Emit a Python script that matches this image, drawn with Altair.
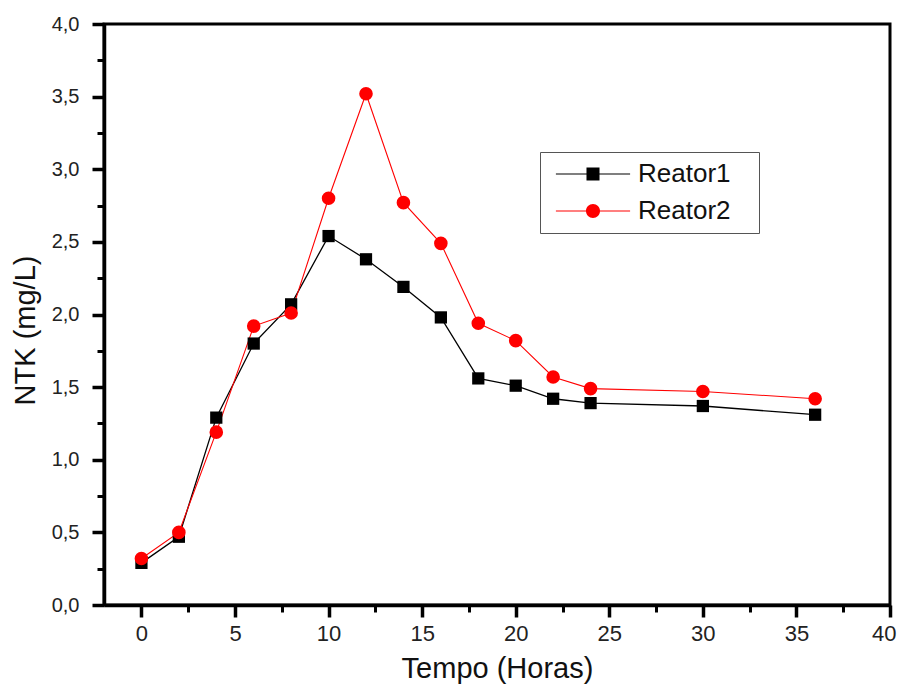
import altair as alt
import pandas as pd

# ---- data ----
tempo = [0, 2, 4, 6, 8, 10, 12, 14, 16, 18, 20, 22, 24, 30, 36]
reator1 = [0.29, 0.47, 1.29, 1.80, 2.07, 2.54, 2.38, 2.19, 1.98, 1.56, 1.51, 1.42, 1.39, 1.37, 1.31]
reator2 = [0.32, 0.50, 1.19, 1.92, 2.01, 2.80, 3.52, 2.77, 2.49, 1.94, 1.82, 1.57, 1.49, 1.47, 1.42]
series = ["Reator1", "Reator2"]
colors = ["#000000", "#ff0000"]
x_major = [0, 5, 10, 15, 20, 25, 30, 35, 40]
x_minor = [2.5, 7.5, 12.5, 17.5, 22.5, 27.5, 32.5, 37.5]
y_major = [0, 0.5, 1.0, 1.5, 2.0, 2.5, 3.0, 3.5, 4.0]
y_minor = [0.25, 0.75, 1.25, 1.75, 2.25, 2.75, 3.25, 3.75]

df = pd.DataFrame({
    "Tempo": tempo + tempo,
    "NTK": reator1 + reator2,
    "Serie": [series[0]] * len(tempo) + [series[1]] * len(tempo),
})

FONT = "Liberation Sans"
xscale = alt.Scale(domain=[-2, 40], nice=False, zero=False)
yscale = alt.Scale(domain=[0, 4], nice=False)

major_x = alt.Axis(values=x_major, format="d", orient="bottom", title="Tempo (Horas)",
                   titleFont=FONT, titleFontSize=29, titleFontWeight="normal", titleColor="#111111",
                   titlePadding=10, labelFont=FONT, labelFontSize=22, labelColor="#222222",
                   labelPadding=6, labelFlush=True, labelFlushOffset=6, labelOverlap=False,
                   tickSize=12, tickWidth=3.5, tickColor="black",
                   domainColor="black", domainWidth=3.5, grid=False)
major_y = alt.Axis(values=y_major, orient="left", title="NTK (mg/L)", titleY=306,
                   labelExpr="replace(format(datum.value, '.1f'), '.', ',')",
                   titleFont=FONT, titleFontSize=29, titleFontWeight="normal", titleColor="#111111",
                   titlePadding=11, labelFont=FONT, labelFontSize=20, labelColor="#222222",
                   labelPadding=13, labelOverlap=False, labelFlush=False,
                   tickSize=12, tickWidth=3.5, tickColor="black",
                   domainColor="black", domainWidth=3.5, grid=False)
minor_x = alt.Axis(values=x_minor, orient="bottom", labels=False, domain=False, grid=False,
                   title=None, tickSize=7, tickWidth=3, tickColor="black")
minor_y = alt.Axis(values=y_minor, orient="left", labels=False, domain=False, grid=False,
                   title=None, tickSize=7, tickWidth=3, tickColor="black")

base = alt.Chart(df)

def xe(axis):
    return alt.X("Tempo:Q", scale=xscale, axis=axis)

def ye(axis):
    return alt.Y("NTK:Q", scale=yscale, axis=axis)

line_widths = [1.3, 1.1]
shapes = ["square", "circle"]
sizes = [150, 185]

layers = []
for i, s in enumerate(series):
    layers.append(
        base.transform_filter(alt.datum.Serie == s)
        .mark_line(color=colors[i], strokeWidth=line_widths[i])
        .encode(x=xe(major_x if i == 0 else None), y=ye(major_y if i == 0 else None))
    )
for i, s in enumerate(series):
    layers.append(
        base.transform_filter(alt.datum.Serie == s)
        .mark_point(shape=shapes[i], filled=True, size=sizes[i], opacity=1, color=colors[i])
        .encode(x=xe(None), y=ye(None))
    )

# legend symbols: line through marker
leg_square = "M-5.3,-0.07H5.3V0.07H-5.3Z M-0.93,-0.93H0.93V0.93H-0.93Z"
leg_circle = "M-5.3,-0.07H5.3V0.07H-5.3Z M1,0A1,1,0,1,1,-1,0A1,1,0,1,1,1,0Z"

legend_props = dict(
    title=None, orient="none", legendX=436, legendY=128,
    padding=9, symbolOffset=31, labelOffset=32, rowPadding=11,
    symbolSize=196, symbolStrokeWidth=0, symbolOpacity=1,
    labelFont=FONT, labelFontSize=26, labelColor="#111111",
    labelExpr="datum.label + '\u2800'",
    strokeColor="#555555", fillColor="white",
)

ghost = (
    base.transform_filter("datum.Tempo < -100")
    .mark_point(filled=True, opacity=1, size=196)
    .encode(
        x=xe(minor_x),
        y=ye(minor_y),
        color=alt.Color("Serie:N", scale=alt.Scale(domain=series, range=colors),
                        legend=alt.Legend(**legend_props)),
        shape=alt.Shape("Serie:N", scale=alt.Scale(domain=series, range=[leg_square, leg_circle]),
                        legend=alt.Legend(**legend_props)),
    )
)
layers.append(ghost)

chart = (
    alt.layer(*layers)
    .resolve_scale(x="shared", y="shared")
    .resolve_axis(x="independent", y="independent")
    .properties(
        width=786, height=581,
        autosize=alt.AutoSizeParams(type="none"),
        padding={"left": 96, "top": 16, "right": 7, "bottom": 80},
        background="white",
    )
    .configure_view(stroke="black", strokeWidth=3)
)

chart.save("out.html", embed_options={"renderer": "svg", "actions": False})
